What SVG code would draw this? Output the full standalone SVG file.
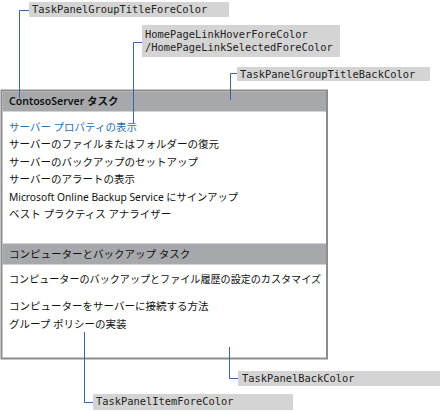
<svg xmlns="http://www.w3.org/2000/svg" width="440" height="411" viewBox="0 0 440 411">
<style>
.lbl{fill:#d4d4d4}
.lt{font-family:"DejaVu Sans Mono","Liberation Mono",monospace;font-size:10.4px;fill:#222}
.pt{font-family:"Noto Sans","Noto Sans CJK JP",sans-serif;font-size:10.5px;fill:#111}
.hd{font-family:"Noto Sans","Noto Sans CJK JP",sans-serif;font-size:10.5px;fill:#111}
.ln{fill:none;stroke:#3a65a0;stroke-width:1}
</style>
<rect width="440" height="411" fill="#fff"/>
<g id="panel">
<rect x="1.5" y="90.5" width="325.5" height="268" fill="#fff" stroke="#8c8c8c" stroke-width="2"/>
<rect x="2.5" y="91.5" width="323.5" height="20" fill="#a7a8ab"/>
<rect x="2.5" y="243.5" width="323.5" height="21" fill="#a7a8ab"/>
<text class="hd" x="9" y="105" font-weight="600">ContosoServer タスク</text>
<text class="pt" x="9" y="131" style="fill:#2a6fb0">サーバー プロパティの表示</text>
<text class="pt" x="9" y="148">サーバーのファイルまたはフォルダーの復元</text>
<text class="pt" x="9" y="166">サーバーのバックアップのセットアップ</text>
<text class="pt" x="9" y="183">サーバーのアラートの表示</text>
<text class="pt" x="9" y="201" textLength="229" lengthAdjust="spacingAndGlyphs">Microsoft Online Backup Service にサインアップ</text>
<text class="pt" x="9" y="218">ベスト プラクティス アナライザー</text>
<text class="hd" x="9" y="258">コンピューターとバックアップ タスク</text>
<text class="pt" x="9" y="283" textLength="312" lengthAdjust="spacingAndGlyphs">コンピューターのバックアップとファイル履歴の設定のカスタマイズ</text>
<text class="pt" x="9" y="310">コンピューターをサーバーに接続する方法</text>
<text class="pt" x="9" y="328">グループ ポリシーの実装</text>
</g>
<g id="connectors">
<polyline class="ln" points="29,10.5 19.5,10.5 19.5,98"/>
<polyline class="ln" points="142,42.5 133.5,42.5 133.5,123"/>
<polyline class="ln" points="237,73.5 230.5,73.5 230.5,100"/>
<polyline class="ln" points="229.5,347 229.5,378.5 238,378.5"/>
<polyline class="ln" points="84.5,332 84.5,402.5 93,402.5"/>
</g>
<g id="label-groupTitleFore">
<rect class="lbl" x="29" y="2" width="200" height="15"/>
<text class="lt" x="32" y="13">TaskPanelGroupTitleForeColor</text>
</g>
<g id="label-homePageLink">
<rect class="lbl" x="142" y="25" width="198" height="32"/>
<text class="lt" x="145" y="38">HomePageLinkHoverForeColor</text>
<text class="lt" x="145" y="51">/HomePageLinkSelectedForeColor</text>
</g>
<g id="label-groupTitleBack">
<rect class="lbl" x="237" y="67" width="193" height="14"/>
<text class="lt" x="240" y="77.5">TaskPanelGroupTitleBackColor</text>
</g>
<g id="label-panelBack">
<rect class="lbl" x="238" y="371" width="202" height="15"/>
<text class="lt" x="242" y="382">TaskPanelBackColor</text>
</g>
<g id="label-itemFore">
<rect class="lbl" x="93" y="394" width="200" height="16"/>
<text class="lt" x="96" y="405">TaskPanelItemForeColor</text>
</g>
</svg>
